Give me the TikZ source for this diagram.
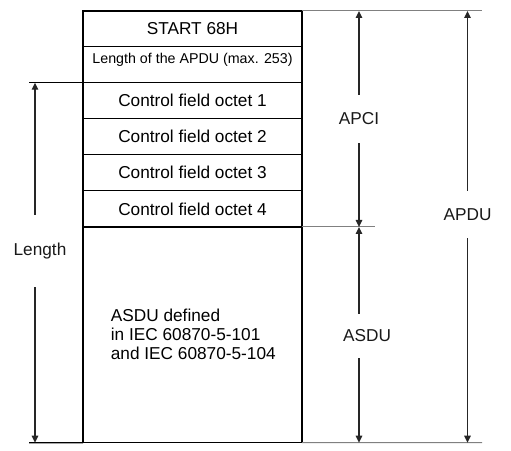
\documentclass[tikz,border=0pt]{standalone}
\usepackage{fontspec}
\setmainfont{Liberation Sans}
\usetikzlibrary{arrows.meta}
\newcommand\bigfnt{\fontsize{17.3}{19}\selectfont}
\newcommand\smallfnt{\fontsize{14.3}{16}\selectfont}
\begin{document}
\begin{tikzpicture}[x=1bp,y=-1bp,
  cell/.style={draw=black, line width=1.4bp, minimum width=219bp, inner sep=0pt, outer sep=0pt, anchor=north west, font=\bigfnt},
  lbl/.style={inner sep=0pt, font=\bigfnt, text=black!90},
  arr/.style={draw=black!85, line width=1.3bp, -{Triangle[length=7bp,width=6.5bp]}},
  blk/.style={draw=black, line width=1.4bp},
  gry/.style={draw=black!50, line width=1bp}]
\useasboundingbox (0,0) rectangle (511,451);
% cells
\node[cell, minimum height=35.7bp] (start) at (83,11) {START 68H};
\node[cell, minimum height=36bp] (len) at (83,46.7) {};
\node[cell, minimum height=36bp] (cf1) at (83,82.7) {Control field octet 1};
\node[cell, minimum height=36bp] (cf2) at (83,118.7) {Control field octet 2};
\node[cell, minimum height=36bp] (cf3) at (83,154.7) {Control field octet 3};
\node[cell, minimum height=36.3bp] (cf4) at (83,190.7) {Control field octet 4};
\node[cell, minimum height=215.7bp] (asdu) at (83,227) {};
\node[font=\smallfnt, inner sep=0pt] (lentext) at (192.5,60) {Length of the APDU (max. 253)};
\node[font=\bigfnt, inner sep=0pt, align=left, anchor=north west] (asdutext) at (110.7,309) {ASDU defined\\in IEC 60870-5-101\\and IEC 60870-5-104};
% extension lines
\coordinate (gtr) at (482,11);
\coordinate (lenl) at (29,82.7);
\coordinate (midr) at (375,227);
\coordinate (botl) at (29,442.7);
\coordinate (botr) at (482,442.7);
\draw[gry] (start.north east) -- (gtr);
\draw[blk] (lenl) -- (cf1.north west);
\draw[gry] (asdu.north east) -- (midr);
\draw[blk] (botl) -- (asdu.south west);
\draw[gry] (asdu.south east) -- (botr);
% labels
\node[lbl, minimum height=48bp] (apci) at (359,119) {APCI};
\node[lbl, minimum height=47bp] (apdu) at (467.5,214.5) {APDU};
\node[lbl, minimum height=72bp] (lenlbl) at (40,251) {Length};
\node[lbl, minimum height=44bp] (asdulbl) at (367,336) {ASDU};
% arrows
\draw[arr] (apci.north) -- (apci.north |- start.north);
\draw[arr] (apci.south) -- (apci.south |- asdu.north);
\draw[arr] (apdu.north) -- (apdu.north |- start.north);
\draw[arr] (apdu.south) -- (apdu.south |- asdu.south);
\draw[arr] ([xshift=-5bp]lenlbl.north) -- ([xshift=-5bp]lenlbl.north |- cf1.north);
\draw[arr] ([xshift=-5bp]lenlbl.south) -- ([xshift=-5bp]lenlbl.south |- asdu.south);
\draw[arr] ([xshift=-8bp]asdulbl.north) -- ([xshift=-8bp]asdulbl.north |- asdu.north);
\draw[arr] ([xshift=-8bp]asdulbl.south) -- ([xshift=-8bp]asdulbl.south |- asdu.south);
\end{tikzpicture}
\end{document}
